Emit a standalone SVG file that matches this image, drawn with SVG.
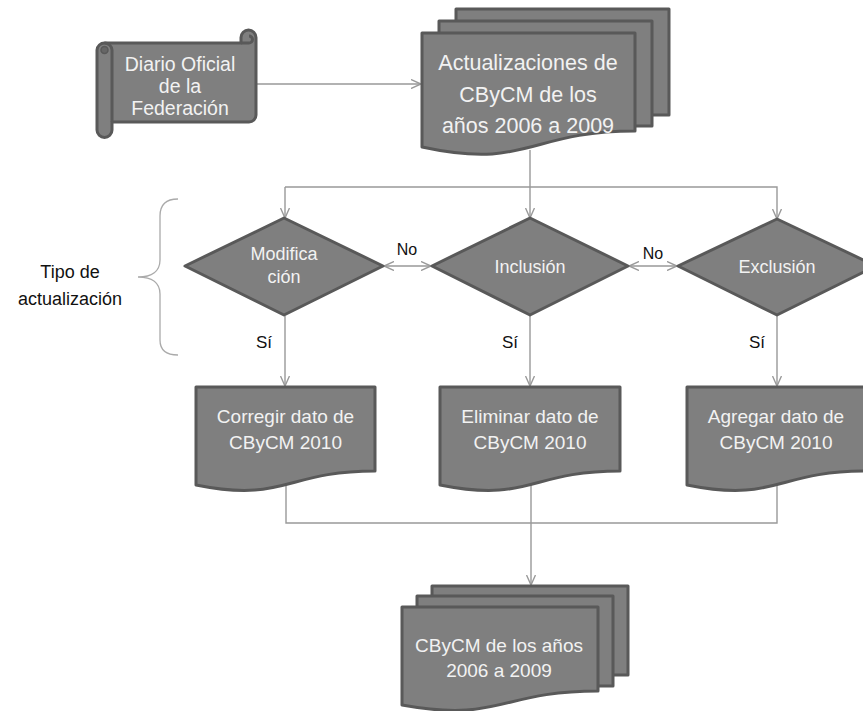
<svg xmlns="http://www.w3.org/2000/svg" width="863" height="711" viewBox="0 0 863 711">
<style>
.shape{fill:#7f7f7f;stroke:#595959;stroke-width:3;stroke-linejoin:round}
.wt{fill:#f2f2f2;font-family:"Liberation Sans",Arial,sans-serif;text-anchor:middle}
.bt{fill:#111;font-family:"Liberation Sans",Arial,sans-serif;text-anchor:middle}
.con{fill:none;stroke:#999;stroke-width:1.4}
</style>
<defs>
<marker id="arr" viewBox="0 0 10 10" refX="10" refY="5" markerWidth="10" markerHeight="10" markerUnits="userSpaceOnUse" orient="auto-start-reverse">
<path d="M0,0.5 L10,5 L0,9.5" fill="none" stroke="#999" stroke-width="1.4"/>
</marker>
</defs>
<rect width="863" height="711" fill="#fff"/>

<g id="connectors">
<path class="con" d="M256,84 H421" marker-end="url(#arr)"/>
<path class="con" d="M530,150 V218" marker-end="url(#arr)"/>
<path class="con" d="M285,187 H777 V219" marker-end="url(#arr)"/>
<path class="con" d="M285,187 V218" marker-end="url(#arr)"/>
<path class="con" d="M384,266 H431" marker-start="url(#arr)" marker-end="url(#arr)"/>
<path class="con" d="M629,266 H677" marker-start="url(#arr)" marker-end="url(#arr)"/>
<path class="con" d="M285,316 V386" marker-end="url(#arr)"/>
<path class="con" d="M530,316 V386" marker-end="url(#arr)"/>
<path class="con" d="M777,316 V386" marker-end="url(#arr)"/>
<path class="con" d="M286,478 V523 H777 V478"/>
<path class="con" d="M531,480 V585" marker-end="url(#arr)"/>
<text class="bt" x="407" y="255" font-size="16">No</text>
<text class="bt" x="653" y="259" font-size="16">No</text>
<text class="bt" x="264" y="348" font-size="17">Sí</text>
<text class="bt" x="510" y="348" font-size="17">Sí</text>
<text class="bt" x="757" y="348" font-size="17">Sí</text>
</g>

<g id="brace">
<path d="M178,199 C166,199 160,205 160,216 L160,260 C160,271 152,277 138,277 C152,277 160,283 160,294 L160,340 C160,350 166,355 178,355" fill="none" stroke="#aaa" stroke-width="1.3"/>
<text class="bt" x="70" y="278" font-size="18">Tipo de</text>
<text class="bt" x="70" y="305" font-size="18">actualización</text>
</g>

<g id="diario">
<path class="shape" d="M97,50 A7.5,7.5 0 0 1 104.5,43 H241 V37.5 A7.5,7.5 0 0 1 256,37.5 V115 A7,7 0 0 1 249,122 H112 V130 A7.5,7.5 0 0 1 97,130 Z"/>
<path d="M112,50 V122 M104.5,43 A7.5,7.5 0 0 1 112,50 M241,43 H249 A3.5,3.5 0 0 0 249,36" fill="none" stroke="#595959" stroke-width="3"/>
<circle cx="104.5" cy="50" r="3.5" fill="#666" stroke="#595959" stroke-width="1.5"/>
<text class="wt" font-size="19.5"><tspan x="180" y="71">Diario Oficial</tspan><tspan x="180" y="93">de la</tspan><tspan x="180" y="115">Federación</tspan></text>
</g>

<g id="actualizaciones">
<rect class="shape" x="456" y="9" width="213" height="106"/>
<rect class="shape" x="439" y="21" width="213" height="105"/>
<path class="shape" d="M422,33 H635 V131 C528.5,131 528.5,170 422,147 Z"/>
<text class="wt" font-size="21.5"><tspan x="528" y="70">Actualizaciones de</tspan><tspan x="528" y="102">CByCM de los</tspan><tspan x="528" y="133">años 2006 a 2009</tspan></text>
</g>

<g id="modificacion">
<path class="shape" d="M284,218 L383,266 L284,315 L185,266 Z"/>
<text class="wt" font-size="18"><tspan x="284" y="260">Modifica</tspan><tspan x="284" y="283">ción</tspan></text>
</g>

<g id="inclusion">
<path class="shape" d="M530,218 L628,266 L530,315 L432,266 Z"/>
<text class="wt" x="530" y="273" font-size="18">Inclusión</text>
</g>

<g id="exclusion">
<path class="shape" d="M777,219 L876,266 L777,315 L678,266 Z"/>
<text class="wt" x="777" y="273" font-size="18">Exclusión</text>
</g>

<g id="corregir">
<path class="shape" d="M196,387 H375 V471 C285.5,471 285.5,503 196,485 Z"/>
<text class="wt" font-size="19"><tspan x="285.5" y="423">Corregir dato de</tspan><tspan x="285.5" y="449">CByCM 2010</tspan></text>
</g>

<g id="eliminar">
<path class="shape" d="M440,387 H620 V471 C530,471 530,503 440,485 Z"/>
<text class="wt" font-size="19"><tspan x="530" y="423">Eliminar dato de</tspan><tspan x="530" y="449">CByCM 2010</tspan></text>
</g>

<g id="agregar">
<path class="shape" d="M687,387 H866 V471 C776.5,471 776.5,503 687,485 Z"/>
<text class="wt" font-size="19"><tspan x="776" y="423">Agregar dato de</tspan><tspan x="776" y="449">CByCM 2010</tspan></text>
</g>

<g id="cbycm">
<rect class="shape" x="432" y="586" width="196" height="89"/>
<rect class="shape" x="417" y="596" width="196" height="90"/>
<path class="shape" d="M402,607 H598 V691 C500,691 500,723 402,705 Z"/>
<text class="wt" font-size="19"><tspan x="499" y="652">CByCM de los años</tspan><tspan x="499" y="677">2006 a 2009</tspan></text>
</g>
</svg>
